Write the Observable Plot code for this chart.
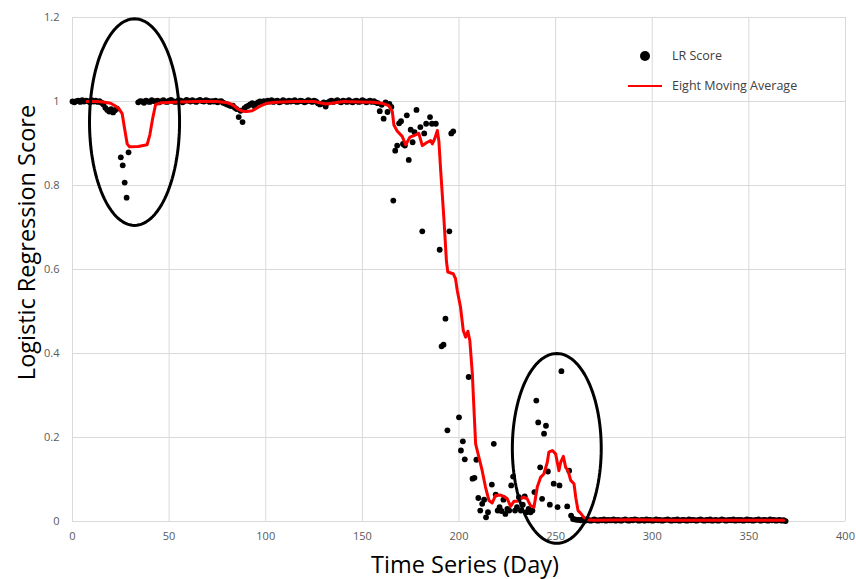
<!DOCTYPE html>
<html><head><meta charset="utf-8">
<script src="https://cdn.jsdelivr.net/npm/d3@7"></script>
<script src="https://cdn.jsdelivr.net/npm/@observablehq/plot@0.6"></script>
<style>
body{margin:0;background:#fff;}
#wrap{position:relative;width:856px;height:579px;background:#fff;}
.lg{position:absolute;font-family:"Open Sans",sans-serif;font-size:12.5px;color:#404040;white-space:nowrap;line-height:18px;}
</style></head><body><div id="wrap"></div>
<script>
// ---- LR score points (day, score) ----
const days = [
0,1,2,3,4,5,6,7,8,9,10,11,12,13,14,15,16,17,18,19,20,21,22,23,
25,26,27,28,29,
34,35,36,37,38,39,40,41,42,43,44,45,46,47,48,49,50,51,52,53,54,55,56,57,58,59,60,61,62,63,64,65,66,67,68,69,70,71,72,73,74,75,76,77,78,79,80,81,82,
83,84,85,86,87,88,89,90,91,92,93,94,95,96,97,
98,99,100,101,102,103,104,105,106,107,108,109,110,111,112,113,114,115,116,117,118,119,120,121,122,123,124,125,126,127,128,129,130,131,132,133,134,135,136,137,138,139,140,141,142,143,144,145,146,147,148,149,150,151,152,153,154,155,156,157,
158,159,160,161,162,163,164,165,166,167,168,169,170,171,172,173,174,175,176,177,178,
180,181,182,183,185,186,188,
190,191,192,193,194,195,196,197,
200,201,202,203,205,
207,208,209,210,211,212,213,214,215,
217,218,219,220,221,222,223,224,225,226,227,228,229,230,231,232,233,234,235,236,237,238,239,
240,241,242,243,244,245,246,247,
249,251,252,253,256,257,258,259,260,261,
262,263,264,265,266,267,268,269,270,271,272,273,
274,275,276,277,278,279,280,281,282,283,284,285,
286,287,288,289,290,291,292,293,294,295,296,297,
298,299,300,301,302,303,304,305,306,307,308,309,
310,311,312,313,314,315,316,317,318,319,320,321,
322,323,324,325,326,327,328,329,330,331,332,333,
334,335,336,337,338,339,340,341,342,343,344,345,
346,347,348,349,350,351,352,353,354,355,356,357,
358,359,360,361,362,363,364,365,366,367,368,369
];
const scores = [
1.000,0.998,1.001,1.002,0.999,1.003,1.000,1.002,1.001,0.998,1.003,1.000,1.002,0.999,1.001,0.997,0.993,0.985,0.980,0.976,0.982,0.974,0.979,0.983,
0.867,0.848,0.807,0.771,0.879,
0.998,1.001,1.000,0.997,1.002,1.000,0.999,1.003,1.001,1.000,1.002,0.998,1.001,1.003,1.000,0.999,1.002,1.004,1.001,0.999,1.000,1.003,1.002,0.998,1.001,1.004,1.002,1.000,1.003,1.001,0.999,1.002,1.004,1.001,1.000,1.003,1.002,0.999,1.001,1.000,1.002,0.998,1.000,1.001,0.997,0.995,0.993,0.991,0.989,
0.990,0.985,0.982,0.963,0.978,0.951,0.984,0.988,0.990,0.993,0.996,0.989,0.995,0.998,1.000,
0.999,1.001,0.998,1.002,1.000,1.003,0.999,1.001,1.002,0.998,1.000,1.003,1.001,0.999,1.002,1.000,1.001,1.003,0.999,1.000,1.002,1.001,0.998,1.000,1.003,1.001,0.999,1.002,1.000,0.996,0.993,0.995,0.998,0.988,0.997,1.000,1.002,0.999,1.001,1.003,1.000,0.998,1.002,1.001,0.999,1.003,1.000,0.998,1.001,1.002,0.999,1.000,1.003,1.001,0.998,1.000,1.002,0.999,1.001,0.998,
0.996,0.977,0.992,0.959,0.998,0.975,0.994,0.987,0.764,0.883,0.895,0.948,0.953,0.899,0.895,0.967,0.861,0.933,0.903,0.927,0.980,
0.939,0.691,0.924,0.947,0.963,0.947,0.947,
0.647,0.417,0.421,0.483,0.217,0.691,0.924,0.929,
0.248,0.169,0.191,0.148,0.344,
0.102,0.104,0.147,0.056,0.026,0.042,0.052,0.010,0.022,
0.088,0.185,0.064,0.026,0.034,0.025,0.052,0.018,0.030,0.026,0.086,0.107,0.026,0.034,0.058,0.026,0.040,0.060,0.022,0.030,0.022,0.026,0.070,
0.288,0.236,0.129,0.054,0.209,0.228,0.119,0.040,
0.090,0.034,0.086,0.358,0.036,0.121,0.014,0.006,0.005,0.004,
0.004,0.003,0.005,0.002,0.003,0.004,0.002,0.003,0.005,0.003,0.002,0.004,
0.003,0.005,0.002,0.004,0.003,0.003,0.005,0.002,0.004,0.003,0.002,0.004,
0.005,0.003,0.002,0.004,0.003,0.005,0.004,0.002,0.003,0.004,0.002,0.005,
0.003,0.004,0.002,0.003,0.005,0.003,0.004,0.002,0.003,0.004,0.005,0.003,
0.002,0.004,0.003,0.005,0.002,0.003,0.004,0.003,0.002,0.005,0.003,0.004,
0.003,0.002,0.004,0.005,0.003,0.002,0.004,0.003,0.005,0.002,0.003,0.004,
0.002,0.003,0.005,0.004,0.002,0.003,0.004,0.003,0.005,0.002,0.004,0.003,
0.004,0.002,0.003,0.005,0.003,0.004,0.002,0.003,0.004,0.005,0.002,0.003,
0.004,0.003,0.002,0.005,0.003,0.004,0.002,0.003,0.004,0.002,0.003,0.001
];

// ---- Eight moving average ----
const maDays = [7.5,12,16,19.7,22,24,25.7,26.8,28.3,29.5,34,38.6,40,41.5,43,46,55,65,75,80,82,84,86,88,90,93,95.7,98,100,105,115,125,128,131,134,140,149,156,160,163.7,165.5,166.3,168,170.6,172.4,174.6,176.7,179.2,181,183.6,185.3,186.2,187.4,188.8,189.6,190.6,192.2,193.5,194.2,197,198.2,199.1,200.8,202.2,203.4,204.6,205.6,206.9,207.7,208.6,210.3,212,213.7,215.5,217.2,218.9,221.5,223.2,225,226.7,228.4,230.2,231.9,233.6,235.3,237,238.8,240.5,242.2,243.9,245.7,246.5,248.3,250,251.7,252.6,254,255.2,256.4,257.8,259.5,260.4,261.6,262.9,264.6,266.4,270,290,310,330,350,368];
const maValues = [1.000,1.000,0.999,0.996,0.990,0.983,0.971,0.940,0.899,0.892,0.893,0.897,0.920,0.960,0.993,0.997,0.999,1.000,1.000,0.997,0.994,0.988,0.981,0.977,0.976,0.978,0.985,0.991,0.995,0.998,1.000,1.000,0.997,0.994,0.996,1.000,0.999,0.998,0.996,0.990,0.976,0.944,0.930,0.917,0.897,0.915,0.919,0.924,0.895,0.903,0.907,0.899,0.911,0.931,0.905,0.830,0.720,0.620,0.594,0.590,0.578,0.550,0.510,0.455,0.439,0.453,0.431,0.352,0.272,0.185,0.153,0.121,0.082,0.050,0.044,0.062,0.063,0.060,0.054,0.036,0.048,0.048,0.054,0.058,0.054,0.038,0.034,0.082,0.105,0.113,0.141,0.165,0.169,0.161,0.121,0.141,0.155,0.129,0.121,0.098,0.090,0.058,0.026,0.020,0.010,0.004,0.003,0.004,0.003,0.003,0.003,0.003];

// ---- axes ----
const xTicks = [0,50,100,150,200,250,300,350,400];
const yTicks = [0,0.2,0.4,0.6,0.8,1,1.2];
const yTickLabels = ["0","0.2","0.4","0.6","0.8","1","1.2"];

// ---- annotation ellipses (data units) ----
const ellipseIds = ["early","late"];
const ellipseDay = [32.1, 250.6];
const ellipseScore = [0.951, 0.174];
const ellipseHalfDays = [23.3, 23.0];
const ellipseHalfScore = [0.246, 0.226];

const points = days.map((d,i)=>({day:d, score:scores[i]}));
const ma = maDays.map((d,i)=>({day:d, value:maValues[i]}));
const angles = d3.range(0, 361, 3);
const ellipsePts = ellipseIds.flatMap((id,i)=>angles.map(a=>({
  id,
  x: ellipseDay[i] + ellipseHalfDays[i]*Math.cos(a*Math.PI/180),
  y: ellipseScore[i] + ellipseHalfScore[i]*Math.sin(a*Math.PI/180)
})));

const grid = "#d9d9d9";
const chart = Plot.plot({
  width: 856, height: 579,
  marginLeft: 72, marginRight: 11, marginTop: 17, marginBottom: 58,
  x: {domain: [0,400]},
  y: {domain: [0,1.2]},
  style: {fontFamily: "'Open Sans', sans-serif", background: "white", overflow: "visible"},
  marks: [
    Plot.gridX(xTicks, {stroke: grid, strokeOpacity: 1, strokeWidth: 1}),
    Plot.gridY(yTicks, {stroke: grid, strokeOpacity: 1, strokeWidth: 1}),
    Plot.axisX(xTicks, {tickSize: 0, tickPadding: 11, fontSize: 11, fill: "#595959", label: null, tickFormat: d => String(d)}),
    Plot.axisY(yTicks, {tickSize: 0, tickPadding: 13, fontSize: 11, fill: "#595959", label: null, tickFormat: d => yTickLabels[yTicks.indexOf(d)]}),
    Plot.dot(points, {x: "day", y: "score", r: 2.9, fill: "black", stroke: "none"}),
    Plot.line(ma, {x: "day", y: "value", stroke: "#ff0000", strokeWidth: 3, strokeLinejoin: "round"}),
    Plot.line(ellipsePts, {x: "x", y: "y", z: "id", stroke: "black", strokeWidth: 3}),
    Plot.text(["Time Series (Day)"], {frameAnchor: "bottom", dx: 6, dy: 44, lineAnchor: "middle", textAnchor: "middle", fontSize: 23.5, fill: "black"}),
    Plot.text(["Logistic Regression Score"], {frameAnchor: "left", dx: -45, dy: -27, rotate: -90, lineAnchor: "middle", textAnchor: "middle", fontSize: 23.5, fill: "black"})
  ]
});
const wrap = document.getElementById("wrap");
wrap.appendChild(chart);

// legend overlay inside the plot area
function add(style, text) {
  const el = document.createElement("div");
  el.className = text ? "lg" : "";
  el.style.cssText += style;
  if (text) el.textContent = text;
  wrap.appendChild(el);
}
add("position:absolute;left:640px;top:51px;width:10px;height:10px;border-radius:50%;background:#000;");
add("left:672px;top:47px;", "LR Score");
add("position:absolute;left:628px;top:85px;width:34px;height:2px;background:#ff0000;");
add("left:672px;top:77px;", "Eight Moving Average");
</script></body></html>
